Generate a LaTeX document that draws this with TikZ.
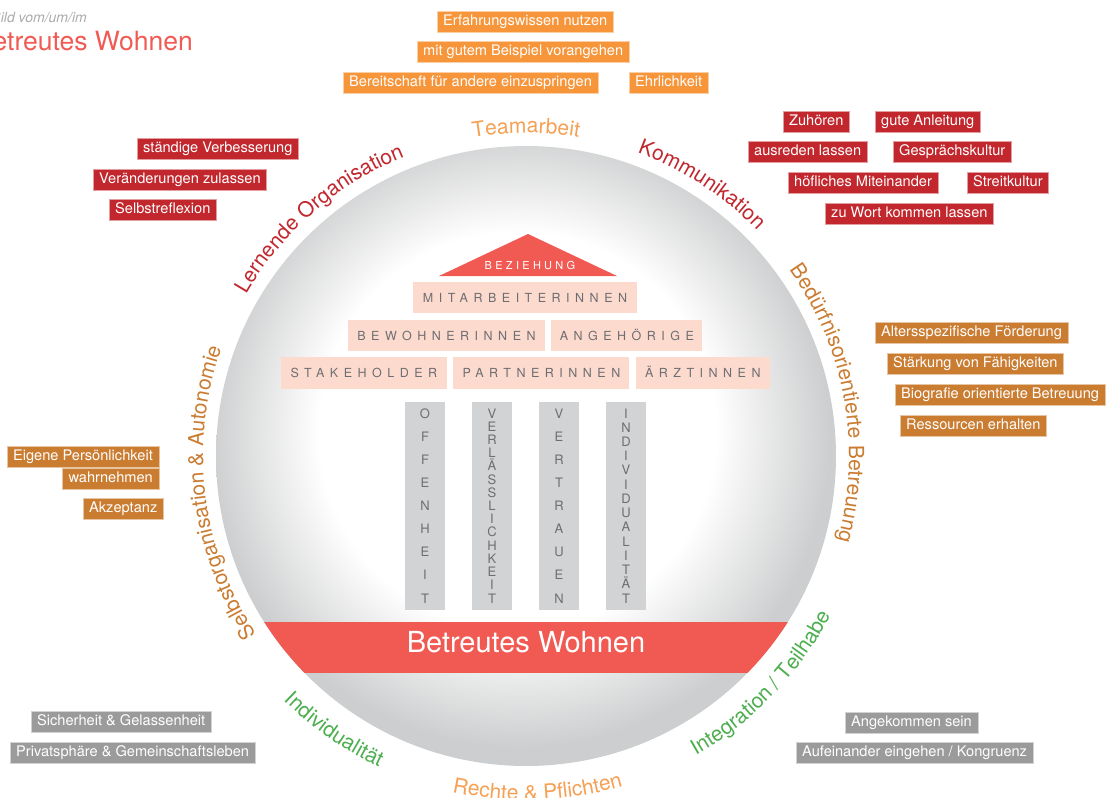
\documentclass[tikz,border=0pt]{standalone}
\usepackage{fontspec}
\setmainfont{TeX Gyre Heros}
\newfontfamily\blockspaced[LetterSpace=44]{TeX Gyre Heros}
\newfontfamily\roofspaced[LetterSpace=30]{TeX Gyre Heros}
\usetikzlibrary{positioning,decorations.text}
\definecolor{teamorange}{HTML}{F7953A}
\definecolor{teamlabel}{HTML}{F6A053}
\definecolor{komred}{HTML}{C1272D}
\definecolor{careorange}{HTML}{CA7C31}
\definecolor{taggrey}{HTML}{9B9B9C}
\definecolor{partgreen}{HTML}{4DAE4F}
\definecolor{bandred}{HTML}{F15A53}
\definecolor{blockpink}{HTML}{FCDACE}
\definecolor{pillargrey}{HTML}{D1D3D4}
\definecolor{lettergrey}{HTML}{6D6E71}
\definecolor{discgrey}{HTML}{CDCECF}
\pgfdeclareradialshading{disc}{\pgfpoint{-1bp}{3bp}}{color(0bp)=(white); color(16bp)=(white); color(25bp)=(discgrey); color(50bp)=(discgrey)}
\newcommand\arcfont{\fontsize{21}{25}\selectfont}
\newcommand\tagfont{\fontsize{14.6}{17}\selectfont}
\begin{document}
\begin{tikzpicture}[x=1pt,y=1pt]
\tikzstyle{tag}=[text=white,font=\tagfont,inner xsep=6pt,inner ysep=3.75pt,text height=10.5pt,text depth=3pt,anchor=west]
\tikzstyle{teamtag}=[tag,fill=teamorange,draw=teamorange!45]
\tikzstyle{komtag}=[tag,fill=komred,draw=komred!45]
\tikzstyle{caretag}=[tag,fill=careorange,draw=careorange!45]
\tikzstyle{greytag}=[tag,fill=taggrey,draw=taggrey!45]
\tikzstyle{block}=[fill=blockpink,text=lettergrey,font=\blockspaced\fontsize{12.5}{14}\selectfont,inner sep=0pt,minimum height=31pt,text height=9pt,text depth=0pt]
\tikzstyle{pillar}=[fill=pillargrey,inner sep=0pt,minimum width=40pt,minimum height=208pt]
\tikzstyle{pillarletter}=[text=lettergrey,font=\fontsize{13}{15}\selectfont,inner sep=0pt,anchor=base]
\useasboundingbox (0,0) rectangle (1109,-798);
\clip (0,0) rectangle (1109,-798);

% title, cut at the left edge
\node[anchor=base east,inner sep=0pt,font=\fontsize{14}{16}\selectfont\itshape,text=taggrey!85] (bild) at (87,-22) {Bild vom/um/im};
\node[anchor=base east,inner sep=0pt,font=\fontsize{26.5}{31}\selectfont,text=bandred] (titel) at (193,-50) {Betreutes Wohnen};

% disc
\node[circle,minimum size=620pt,inner sep=0pt,shading=disc] (disc) at (526,-456) {};
\begin{scope}
\clip (disc.center) circle (310);
\fill[bandred] (200,-622) rectangle (850,-673);
\end{scope}
\node[text=white,font=\fontsize{29}{34}\selectfont,anchor=base] (bw) at (526,-652) {Betreutes Wohnen};

% roof and blocks
\fill[bandred] (439,-276) -- (528,-234) -- (617,-276) -- cycle;
\node[text=white,font=\roofspaced\fontsize{11}{13}\selectfont,anchor=base,inner sep=0pt] (bez) at (530,-269) {BEZIEHUNG};
\node[block,minimum width=224pt] (mit) at (525,-297.5) {MITARBEITERINNEN};
\node[block,minimum width=197pt] (bew) at (446.5,-335.5) {BEWOHNERINNEN};
\node[block,minimum width=151pt,right=6pt of bew] (ang) {ANGEHÖRIGE};
\node[block,minimum width=166pt,minimum height=32pt] (stk) at (364,-373) {STAKEHOLDER};
\node[block,minimum width=176pt,minimum height=32pt,right=6pt of stk] (par) {PARTNERINNEN};
\node[block,minimum width=134pt,minimum height=32pt,right=6pt of par] (arz) {ÄRZTINNEN};

% pillars
\node[pillar] (off) at (425,-506) {};
\foreach \ch [count=\k] in {O,F,F,E,N,H,E,I,T} \node[pillarletter] (off\k) at (425,{-418-(\k-1)*185/8}) {\ch};
\node[pillar] (verl) at (492,-506) {};
\foreach \ch [count=\k] in {V,E,R,L,Ä,S,S,L,I,C,H,K,E,I,T} \node[pillarletter] (verl\k) at (492,{-418-(\k-1)*185/14}) {\ch};
\node[pillar] (vert) at (559,-506) {};
\foreach \ch [count=\k] in {V,E,R,T,R,A,U,E,N} \node[pillarletter] (vert\k) at (559,{-418-(\k-1)*185/8}) {\ch};
\node[pillar] (ind) at (626,-506) {};
\foreach \ch [count=\k] in {I,N,D,I,V,I,D,U,A,L,I,T,Ä,T} \node[pillarletter] (ind\k) at (626,{-418-(\k-1)*185/13}) {\ch};

% labels round the disc
\path[decorate,decoration={text along path,text align=center,text={|\arcfont\color{teamlabel}|Teamarbeit}}] (disc.center) ++(140:323) arc[start angle=140,end angle=40,radius=323];
\path[decorate,decoration={text along path,text align=center,text={|\arcfont\color{komred}|Kommunikation}}] (disc.center) ++(100:323) arc[start angle=100,end angle=14,radius=323];
\path[decorate,decoration={text along path,text align=center,text={|\arcfont\color{komred}|Lernende Organisation}}] (disc.center) ++(180:323) arc[start angle=180,end angle=82,radius=323];
\path[decorate,decoration={text along path,text align=center,text={|\arcfont\color{careorange}|Bedürfnisorientierte Betreuung}}] (disc.center) ++(60:323) arc[start angle=60,end angle=-40,radius=323];
\path[decorate,decoration={text along path,text align=center,text={|\arcfont\color{careorange}|Selbstorganisation {\&} Autonomie}}] (disc.center) ++(240:323) arc[start angle=240,end angle=134,radius=323];
\path[decorate,decoration={text along path,text align=center,text={|\arcfont\color{partgreen}|Individualität}}] (disc.center) ++(200:344) arc[start angle=200,end angle=270,radius=344];
\path[decorate,decoration={text along path,text align=center,text={|\arcfont\color{teamlabel}|Rechte {\&} Pflichten}}] (disc.center) ++(237:344) arc[start angle=237,end angle=307,radius=344];
\path[decorate,decoration={text along path,text align=center,text={|\arcfont\color{partgreen}|Integration / Teilhabe}}] (disc.center) ++(276:344) arc[start angle=276,end angle=356,radius=344];

% Teamarbeit
\node[teamtag] (erf) at (437,-21.5) {Erfahrungswissen nutzen};
\node[teamtag] (bsp) at (417,-52) {mit gutem Beispiel vorangehen};
\node[teamtag] (ber) at (343,-82.5) {Bereitschaft für andere einzuspringen};
\node[teamtag] (ehr) at (629,-82.5) {Ehrlichkeit};

% Kommunikation
\node[komtag] (zuh) at (783,-122) {Zuhören};
\node[komtag] (anl) at (875,-122) {gute Anleitung};
\node[komtag] (aus) at (748,-152) {ausreden lassen};
\node[komtag] (ges) at (893,-152) {Gesprächskultur};
\node[komtag] (hoe) at (788,-182.5) {höfliches Miteinander};
\node[komtag] (str) at (967,-182.5) {Streitkultur};
\node[komtag] (wort) at (825,-213.5) {zu Wort kommen lassen};

% Lernende Organisation
\node[komtag] (staen) at (137,-148.5) {ständige Verbesserung};
\node[komtag] (vera) at (93,-179.5) {Veränderungen zulassen};
\node[komtag] (selb) at (109,-209.5) {Selbstreflexion};

% Beduerfnisorientierte Betreuung
\node[caretag] (alt) at (875,-333) {Altersspezifische Förderung};
\node[caretag] (faeh) at (887,-363.5) {Stärkung von Fähigkeiten};
\node[caretag] (bio) at (895,-394.5) {Biografie orientierte Betreuung};
\node[caretag] (res) at (900,-425.5) {Ressourcen erhalten};

% Selbstorganisation & Autonomie
\node[caretag,anchor=east] (eig) at (159,-457) {Eigene Persönlichkeit};
\node[caretag,anchor=north east] (wahr) at (eig.south east) {wahrnehmen};
\node[caretag] (akz) at (83,-508.5) {Akzeptanz};

% bottom
\node[greytag] (sich) at (31,-722) {Sicherheit \& Gelassenheit};
\node[greytag] (priv) at (10,-752.5) {Privatsphäre \& Gemeinschaftsleben};
\node[greytag] (ange) at (845,-722.5) {Angekommen sein};
\node[greytag] (aufe) at (796,-752.5) {Aufeinander eingehen / Kongruenz};
\end{tikzpicture}
\end{document}
